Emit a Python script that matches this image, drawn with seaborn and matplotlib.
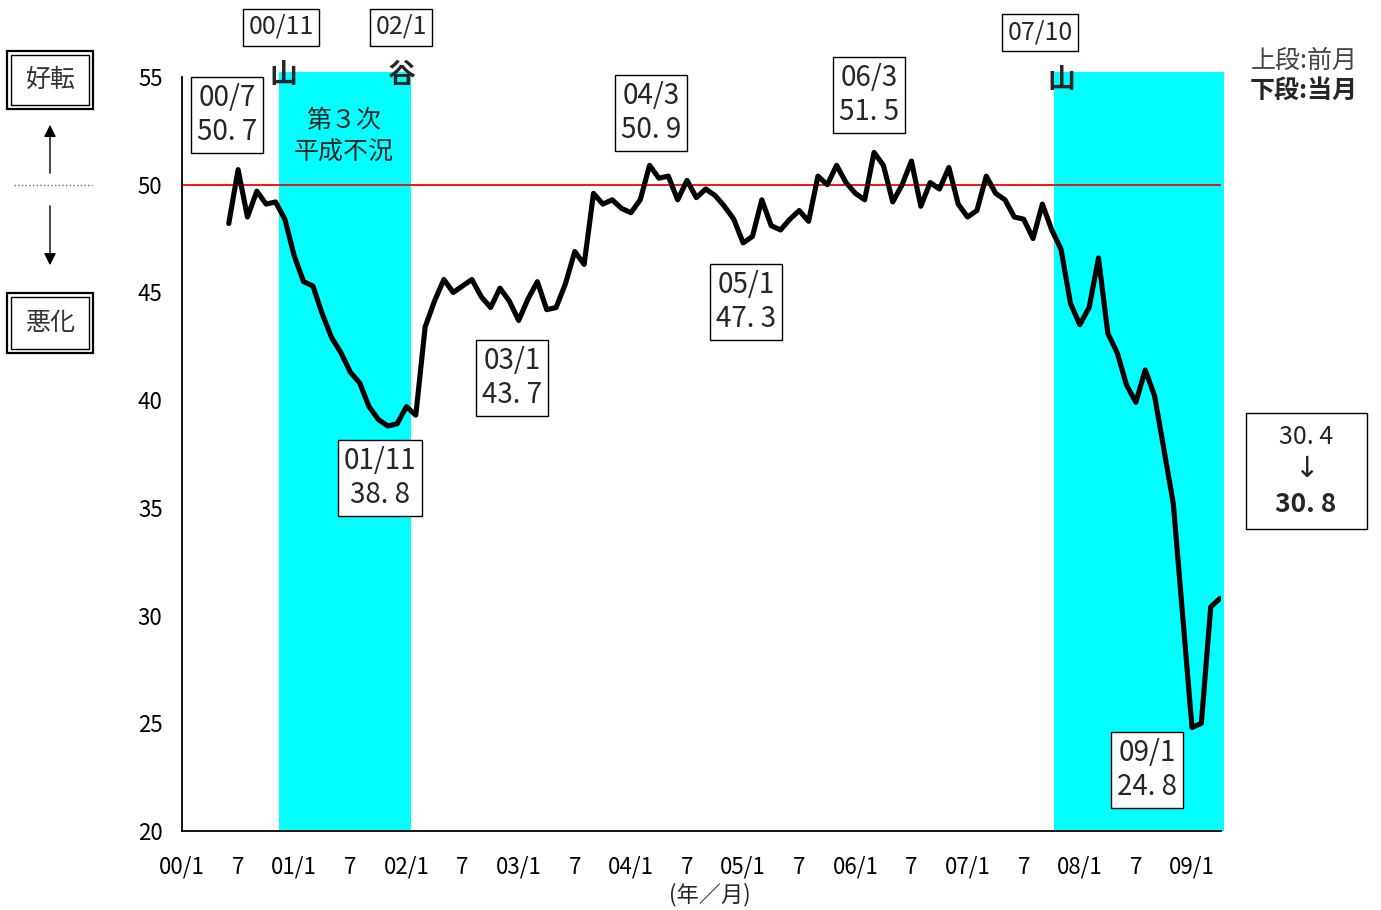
import numpy as np
import pandas as pd
import matplotlib
matplotlib.use("Agg")
import matplotlib.pyplot as plt
import matplotlib.patches as mpatches
import seaborn as sns

# monthly DI, starting 2000/6 (month index 5 counted from 2000/1)
start_month = 5
di_values = [
    48.2, 50.7, 48.5, 49.7, 49.1, 49.2, 48.4,                    # 00/6 - 00/12
    46.7, 45.5, 45.3, 44.0, 42.9, 42.2, 41.3, 40.8, 39.7, 39.1, 38.8, 38.9,  # 01
    39.7, 39.3, 43.4, 44.6, 45.6, 45.0, 45.3, 45.6, 44.8, 44.3, 45.2, 44.6,  # 02
    43.7, 44.7, 45.5, 44.2, 44.3, 45.4, 46.9, 46.3, 49.6, 49.1, 49.3, 48.9,  # 03
    48.7, 49.3, 50.9, 50.3, 50.4, 49.3, 50.2, 49.4, 49.8, 49.5, 49.0, 48.4,  # 04
    47.3, 47.6, 49.3, 48.1, 47.9, 48.4, 48.8, 48.3, 50.4, 50.0, 50.9, 50.1,  # 05
    49.6, 49.3, 51.5, 50.9, 49.2, 50.0, 51.1, 49.0, 50.1, 49.8, 50.8, 49.1,  # 06
    48.5, 48.8, 50.4, 49.6, 49.3, 48.5, 48.4, 47.5, 49.1, 47.9, 47.0, 44.5,  # 07
    43.5, 44.3, 46.6, 43.1, 42.2, 40.7, 39.9, 41.4, 40.2, 37.7, 35.2, 30.0,  # 08
    24.8, 25.0, 30.4, 30.8,                                       # 09/1 - 09/4
]
tick_months = [0, 6, 12, 18, 24, 30, 36, 42, 48, 54, 60, 66, 72, 78, 84, 90, 96, 102, 108]
tick_labels = ["00/1", "7", "01/1", "7", "02/1", "7", "03/1", "7", "04/1", "7",
               "05/1", "7", "06/1", "7", "07/1", "7", "08/1", "7", "09/1"]
y_ticks = [20, 25, 30, 35, 40, 45, 50, 55]
recessions = [(10.4, 24.45), (93.25, 111.4)]

# annotation boxes: (text, x px, y px)
point_labels = [
    ("00/7\n50. 7", 227, 115),
    ("01/11\n38. 8", 380, 478),
    ("03/1\n43. 7", 512, 378),
    ("04/3\n50. 9", 651, 113),
    ("05/1\n47. 3", 746, 302),
    ("06/3\n51. 5", 869, 95),
    ("09/1\n24. 8", 1147, 770),
]
turning_points = [("00/11", 281, 27), ("02/1", 401, 27), ("07/10", 1040, 32)]
turning_marks = [("山", 283, 75), ("谷", 401, 75), ("山", 1061, 80)]

W, H = 1381, 910
df = pd.DataFrame({"month": np.arange(start_month, start_month + len(di_values)),
                   "di": di_values})

sns.set_style("white")
plt.rcParams["font.family"] = ["Noto Sans CJK JP", "DejaVu Sans"]

fig = plt.figure(figsize=(W / 100, H / 100), dpi=100)
ax = fig.add_axes([182 / W, (H - 831) / H, (1221 - 182) / W, (831 - 77) / H])


def fx(x):
    return x / W


def fy(y):
    return 1 - y / H


top_frac = (55.25 - 20) / 35
for x0, x1 in recessions:
    ax.axvspan(x0, x1, ymin=0, ymax=top_frac, color="#00ffff", lw=0, clip_on=False, zorder=0)

ax.axhline(50, color="red", lw=1.3, zorder=1)
sns.lineplot(data=df, x="month", y="di", ax=ax, color="black", lw=3.7, zorder=3)

ax.set_xlim(0, 111.1)
ax.set_ylim(20, 55)
ax.set_xticks(tick_months)
ax.set_xticklabels(tick_labels)
ax.set_yticks(y_ticks)
ax.set_xlabel("")
ax.set_ylabel("")
ax.tick_params(axis="both", direction="in", length=7, width=1.2, colors="black", labelsize=16)
ax.tick_params(axis="x", pad=18)
ax.tick_params(axis="y", pad=14)
for s in ["top", "right"]:
    ax.spines[s].set_visible(False)
for s in ["left", "bottom"]:
    ax.spines[s].set_color("black")
    ax.spines[s].set_linewidth(1.3)
ax.spines["left"].set_bounds(20, 55)
ax.patch.set_alpha(0)

box = dict(boxstyle="square,pad=0.22", fc="white", ec="black", lw=1)
for txt, x, y in point_labels:
    fig.text(fx(x), fy(y), txt, ha="center", va="center", fontsize=20,
             linespacing=1.15, bbox=box)
for txt, x, y in turning_points:
    fig.text(fx(x), fy(y), txt, ha="center", va="center", fontsize=18, bbox=box)
for txt, x, y in turning_marks:
    fig.text(fx(x), fy(y), txt, ha="center", va="center", fontsize=20, fontweight="bold")

fig.text(fx(344), fy(136), "第３次\n平成不況", ha="center", va="center", fontsize=18,
         linespacing=1.25)

fig.text(fx(1304), fy(61), "上段:前月", ha="center", va="center", fontsize=18, color="#444444")
fig.text(fx(1304), fy(91), "下段:当月", ha="center", va="center", fontsize=18, fontweight="bold")

# latest value box on the right
fig.patches.append(mpatches.Rectangle((fx(1246), fy(529)), (1367 - 1246) / W, (529 - 413) / H,
                                      transform=fig.transFigure, fill=False, ec="black", lw=1))
fig.text(fx(1306), fy(437), "30. 4", ha="center", va="center", fontsize=18)
fig.text(fx(1306), fy(469), "↓", ha="center", va="center", fontsize=21,
         family=["DejaVu Sans"])
fig.text(fx(1306), fy(505), "30. 8", ha="center", va="center", fontsize=19, fontweight="bold")

# legend-like boxes on the left
for label, y0, y1 in [("好転", 51, 109), ("悪化", 293, 353)]:
    fig.patches.append(mpatches.Rectangle((fx(7), fy(y1)), 86 / W, (y1 - y0) / H,
                                          transform=fig.transFigure, fill=False, ec="black", lw=1.6))
    fig.patches.append(mpatches.Rectangle((fx(11), fy(y1 - 4)), 78 / W, (y1 - y0 - 8) / H,
                                          transform=fig.transFigure, fill=False, ec="black", lw=1))
    fig.text(fx(51), fy((y0 + y1) / 2), label, ha="center", va="center", fontsize=18,
             color="#333333")

arrow = dict(arrowstyle="-|>", color="black", lw=1, mutation_scale=18)
fig.add_artist(mpatches.FancyArrowPatch((fx(50), fy(176)), (fx(50), fy(122)),
                                        transform=fig.transFigure, **arrow))
fig.add_artist(mpatches.FancyArrowPatch((fx(50), fy(203)), (fx(50), fy(268)),
                                        transform=fig.transFigure, **arrow))
fig.add_artist(plt.Line2D([fx(14), fx(92)], [fy(185), fy(185)], transform=fig.transFigure,
                          color="#666666", lw=1, ls=":"))

fig.text(fx(710), fy(895), "(年／月)", ha="center", va="center", fontsize=16)

fig.savefig("out.png", dpi=100)
